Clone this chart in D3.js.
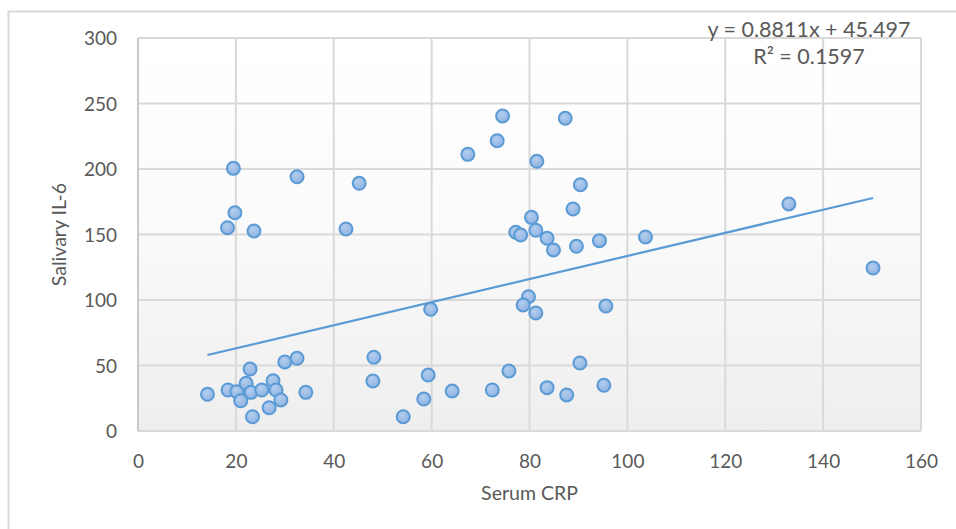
<!DOCTYPE html>
<html>
<head>
<meta charset="utf-8">
<script src="https://cdn.jsdelivr.net/npm/d3@7/dist/d3.min.js"></script>
<style>
  html, body { margin: 0; padding: 0; background: #fff; }
  svg { display: block; }
  text { font-family: Lato, "Open Sans", sans-serif; fill: #595959; }
</style>
</head>
<body>
<svg id="chart" width="956" height="529"></svg>
<script>
// Serum CRP (x) values
const serumCRP = [
  14.2, 18.4, 20.2, 21.0, 22.1, 22.9, 23.1, 23.4, 25.3, 26.8, 27.6, 28.2, 29.2, 30.0, 32.5, 34.3,
  19.5, 32.5, 45.2, 19.8, 18.3, 23.7, 42.5,
  74.5, 87.3, 73.4, 67.4, 81.5, 90.4, 88.9, 80.4, 77.2, 78.2, 81.3, 83.6, 84.9, 89.6, 94.3, 103.7,
  59.8, 79.8, 78.7, 81.3, 95.6, 59.3, 58.4, 54.2, 64.2, 72.4, 75.8, 83.6, 87.6, 90.3, 95.2, 48.2, 48.0,
  133.0, 150.2
];
// Salivary IL-6 (y) values
const salivaryIL6 = [
  28.0, 31.3, 30.0, 23.1, 36.4, 47.3, 29.5, 10.9, 31.3, 17.8, 38.4, 31.3, 23.7, 52.7, 55.5, 29.5,
  200.5, 194.1, 189.1, 166.6, 155.2, 152.7, 154.2,
  240.5, 238.7, 221.6, 211.2, 205.9, 188.0, 169.5, 163.1, 151.7, 149.6, 153.2, 147.1, 138.2, 141.0, 145.3, 148.1,
  92.9, 102.5, 96.2, 90.1, 95.4, 42.7, 24.4, 10.9, 30.5, 31.3, 45.8, 33.1, 27.5, 51.9, 34.9, 56.3, 38.2,
  173.3, 124.4
];
const xTicks = [0, 20, 40, 60, 80, 100, 120, 140, 160];
const yTicks = [0, 50, 100, 150, 200, 250, 300];
const trendSlope = 0.8811;
const trendIntercept = 45.497;
const equationLabel = "y = 0.8811x + 45.497";
const r2Label = "R² = 0.1597";
const xTitle = "Serum CRP";
const yTitle = "Salivary IL-6";

const svg = d3.select("#chart");
const plot = { left: 138, right: 921, top: 38, bottom: 431 };

const x = d3.scaleLinear().domain([0, 160]).range([plot.left, plot.right]);
const y = d3.scaleLinear().domain([0, 300]).range([plot.bottom, plot.top]);

const defs = svg.append("defs");
const grad = defs.append("linearGradient").attr("id", "bg").attr("x1", 0).attr("y1", 0).attr("x2", 0).attr("y2", 1);
grad.append("stop").attr("offset", "0%").attr("stop-color", "#ffffff");
grad.append("stop").attr("offset", "45%").attr("stop-color", "#fbfbfb");
grad.append("stop").attr("offset", "100%").attr("stop-color", "#eeeeee");

const mg = defs.append("radialGradient").attr("id", "mk").attr("cx", "40%").attr("cy", "35%").attr("r", "70%");
mg.append("stop").attr("offset", "0%").attr("stop-color", "#b3cdee");
mg.append("stop").attr("offset", "100%").attr("stop-color", "#8db2e2");

// outer chart border (left and top visible)
svg.append("path")
  .attr("d", "M8.5,529 L8.5,11.5 L956,11.5")
  .attr("fill", "none").attr("stroke", "#d9d9d9").attr("stroke-width", 2);

// plot background
svg.append("rect")
  .attr("x", plot.left).attr("y", plot.top)
  .attr("width", plot.right - plot.left).attr("height", plot.bottom - plot.top)
  .attr("fill", "url(#bg)");

// gridlines
svg.append("g").selectAll("line").data(xTicks).join("line")
  .attr("x1", d => x(d)).attr("x2", d => x(d))
  .attr("y1", plot.top).attr("y2", plot.bottom)
  .attr("stroke", "#d9d9d9").attr("stroke-width", 2);
svg.append("g").selectAll("line").data(yTicks).join("line")
  .attr("x1", plot.left).attr("x2", plot.right)
  .attr("y1", d => y(d)).attr("y2", d => y(d))
  .attr("stroke", "#d9d9d9").attr("stroke-width", 2);

// axes (labels only)
const xAxis = d3.axisBottom(x).tickValues(xTicks).tickSize(0).tickPadding(0);
const yAxis = d3.axisLeft(y).tickValues(yTicks).tickSize(0).tickPadding(0);

const gx = svg.append("g").attr("transform", `translate(0,${plot.bottom})`).call(xAxis);
gx.select(".domain").remove();
gx.selectAll("text").attr("dy", null).attr("y", 37)
  .style("font-size", "19px").style("font-family", "Lato, sans-serif").attr("fill", "#595959");

const gy = svg.append("g").attr("transform", `translate(${plot.left},0)`).call(yAxis);
gy.select(".domain").remove();
gy.selectAll("text").attr("x", -21).attr("dy", "0.35em")
  .style("font-size", "19px").style("font-family", "Lato, sans-serif").attr("fill", "#595959");

// left axis line
svg.append("line")
  .attr("x1", plot.left).attr("x2", plot.left)
  .attr("y1", plot.top).attr("y2", plot.bottom)
  .attr("stroke", "#c9c9c9").attr("stroke-width", 2);

// axis titles
svg.append("text")
  .attr("x", (plot.left + plot.right) / 2).attr("y", 500)
  .attr("text-anchor", "middle").style("font-size", "19.5px")
  .text(xTitle);
svg.append("text")
  .attr("transform", `translate(66,${(plot.top + plot.bottom) / 2}) rotate(-90)`)
  .attr("text-anchor", "middle").style("font-size", "19.5px")
  .text(yTitle);

// trendline
const xMin = d3.min(serumCRP), xMax = d3.max(serumCRP);
svg.append("line")
  .attr("x1", x(xMin)).attr("y1", y(trendSlope * xMin + trendIntercept))
  .attr("x2", x(xMax)).attr("y2", y(trendSlope * xMax + trendIntercept))
  .attr("stroke", "#5b9bd5").attr("stroke-width", 2.2);

// points
const pts = serumCRP.map((v, i) => ({ x: v, y: salivaryIL6[i] }));
svg.append("g").selectAll("circle").data(pts).join("circle")
  .attr("cx", d => x(d.x)).attr("cy", d => y(d.y)).attr("r", 6.5)
  .attr("fill", "url(#mk)").attr("stroke", "#5b9bd5").attr("stroke-width", 2);

// equation labels
svg.append("text").attr("x", 809).attr("y", 37).attr("text-anchor", "middle")
  .style("font-size", "21.5px").text(equationLabel);
svg.append("text").attr("x", 809).attr("y", 64).attr("text-anchor", "middle")
  .style("font-size", "21.5px").text(r2Label);
</script>
</body>
</html>
